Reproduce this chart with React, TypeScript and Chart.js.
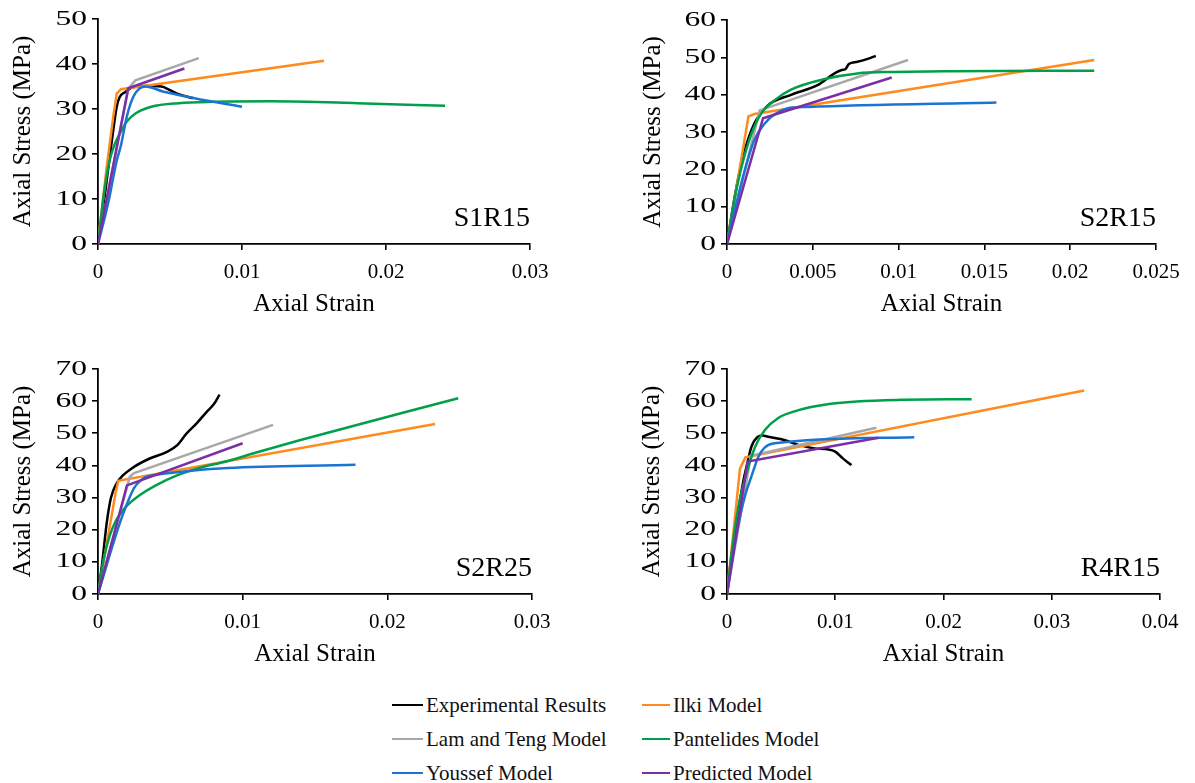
import React, { useEffect, useRef } from "react";
import { Chart, registerables } from "chart.js";

Chart.register(...registerables);

const SERIF = "'Liberation Serif', 'Times New Roman', Times, serif";
Chart.defaults.font.family = SERIF;
Chart.defaults.color = "#000";

// Series shared by every panel, in drawing order
const seriesNames = [
  "Experimental Results",
  "Ilki Model",
  "Lam and Teng Model",
  "Pantelides Model",
  "Youssef Model",
  "Predicted Model",
];
const seriesColors = ["#000000", "#FF8A1E", "#A8A8A8", "#00A04A", "#1C74D2", "#7B2EA6"];

// Each curve: [axial strain, axial stress (MPa)]
// ---- S1R15 ----
const s1r15Experimental = [[0, 0], [0.0004, 9], [0.0008, 19], [0.00106, 25.3], [0.0013, 30.5], [0.0015, 32.6], [0.0019, 33.8], [0.0024, 34.8], [0.0033, 35.1], [0.0044, 35], [0.005, 34.2], [0.0056, 33.3], [0.0066, 32.4]];
const s1r15Ilki = [[0, 0], [0.0006, 17], [0.00106, 28.3], [0.0013, 33.4], [0.0016, 34.4], [0.0157, 40.7]];
const s1r15LamTeng = [[0, 0], [0.0021, 34.5], [0.0026, 36.4], [0.007, 41.3]];
const s1r15Pantelides = [[0, 0], [0.0004, 11], [0.0008, 18.5], [0.0012, 22.5], [0.0016, 25], [0.002, 27.2], [0.0026, 29], [0.0037, 30.5], [0.0056, 31.3], [0.0081, 31.6], [0.012, 31.7], [0.018, 31.3], [0.0241, 30.7]];
const s1r15Youssef = [[0, 0], [0.0007, 9], [0.0013, 18.5], [0.0016, 22], [0.002, 28.3], [0.00245, 32.7], [0.0029, 34.6], [0.0033, 35], [0.0045, 33.9], [0.0067, 32.4], [0.01, 30.5]];
const s1r15Predicted = [[0, 0], [0.0021, 34.6], [0.006, 39]];

// ---- S2R15 ----
const s2r15Experimental = [[0, 0], [0.0005, 14], [0.001, 24.5], [0.0016, 32.3], [0.0024, 37.2], [0.0037, 39.9], [0.0053, 42.6], [0.0062, 45.5], [0.0067, 46.6], [0.0069, 46.8], [0.0071, 48.2], [0.0076, 48.8], [0.0082, 49.6], [0.00867, 50.4]];
const s2r15Ilki = [[0, 0], [0.00125, 34.2], [0.0016, 34.8], [0.0214, 49.3]];
const s2r15LamTeng = [[0, 0], [0.0019, 35.8], [0.01055, 49.3]];
const s2r15Pantelides = [[0, 0], [0.0004, 11], [0.00085, 20.7], [0.00143, 29.6], [0.002, 35], [0.0028, 38.6], [0.0037, 41.3], [0.0057, 44.2], [0.0076, 45.7], [0.0097, 46.1], [0.013, 46.3], [0.0214, 46.4]];
const s2r15Youssef = [[0, 0], [0.0005, 10], [0.00104, 19.8], [0.0016, 27.9], [0.0022, 32.3], [0.0028, 34.8], [0.0035, 36.3], [0.0047, 36.7], [0.0157, 37.9]];
const s2r15Predicted = [[0, 0], [0.0021, 33.7], [0.0096, 44.6]];

// ---- S2R25 ----
const s2r25Experimental = [[0, 0], [0.0003, 10], [0.0006, 22], [0.0009, 30], [0.0013, 34.5], [0.0017, 36.8], [0.0024, 39.3], [0.0035, 42], [0.0048, 44.3], [0.0055, 46.4], [0.0061, 49.8], [0.0068, 53], [0.0075, 56.6], [0.008, 59], [0.0084, 62]];
const s2r25Ilki = [[0, 0], [0.0012, 31], [0.0014, 35.2], [0.0233, 52.9]];
const s2r25LamTeng = [[0, 0], [0.0022, 36.5], [0.0025, 37.6], [0.0121, 52.6]];
const s2r25Pantelides = [[0, 0], [0.0004, 11], [0.0008, 18], [0.0012, 22.5], [0.0016, 25.3], [0.002, 27.5], [0.0028, 30.5], [0.004, 33.8], [0.0055, 37], [0.007, 39.2], [0.0089, 41.3], [0.011, 44.1], [0.014, 47.9], [0.0249, 60.9]];
const s2r25Youssef = [[0, 0], [0.0008, 12], [0.0015, 22], [0.002, 28], [0.0025, 33], [0.003, 35.5], [0.0035, 36.7], [0.0178, 40.2]];
const s2r25Predicted = [[0, 0], [0.002, 33.8], [0.01, 46.9]];

// ---- R4R15 ----
const r4r15Experimental = [[0, 0], [0.0005, 14], [0.001, 25], [0.0015, 35], [0.0019, 41], [0.00225, 45.8], [0.0028, 48.8], [0.0033, 49.3], [0.0038, 48.9], [0.0053, 47.9], [0.0066, 46.4], [0.0081, 45.3], [0.0093, 45], [0.01, 44.3], [0.0107, 42.2], [0.0115, 40.1]];
const r4r15Ilki = [[0, 0], [0.0012, 39], [0.0017, 42.5], [0.033, 63.3]];
const r4r15LamTeng = [[0, 0], [0.0022, 43], [0.0138, 51.7]];
const r4r15Pantelides = [[0, 0], [0.0004, 12], [0.0008, 22], [0.00117, 29.2], [0.0018, 37.5], [0.0026, 45.8], [0.0035, 51], [0.0047, 54.7], [0.0066, 57.2], [0.009, 58.9], [0.012, 59.9], [0.016, 60.4], [0.0226, 60.6]];
const r4r15Youssef = [[0, 0], [0.0006, 13], [0.0012, 24], [0.0017, 31], [0.00225, 36.5], [0.0029, 42.7], [0.0035, 45.6], [0.0044, 46.9], [0.0173, 48.8]];
const r4r15Predicted = [[0, 0], [0.0019, 41.2], [0.014, 48.6]];

// Axis ticks
const s1r15XTicks = [0, 0.01, 0.02, 0.03];
const s1r15YTicks = [0, 10, 20, 30, 40, 50];
const s2r15XTicks = [0, 0.005, 0.01, 0.015, 0.02, 0.025];
const s2r15YTicks = [0, 10, 20, 30, 40, 50, 60];
const s2r25XTicks = [0, 0.01, 0.02, 0.03];
const s2r25YTicks = [0, 10, 20, 30, 40, 50, 60, 70];
const r4r15XTicks = [0, 0.01, 0.02, 0.03, 0.04];
const r4r15YTicks = [0, 10, 20, 30, 40, 50, 60, 70];

const xAxisTitle = "Axial Strain";
const yAxisTitle = "Axial Stress (MPa)";

// Curves that come from smooth relations get monotone interpolation
const smoothSeries = [true, false, false, true, true, false];

type Pt = number[];

interface PanelSpec {
  label: string;
  curves: Pt[][];
  xTicks: number[];
  yTicks: number[];
  box: { left: number; top: number; width: number; height: number };
  pad: { top: number; right: number };
  yAxisWidth: number;
  yTitlePad: number;
}

const panels: PanelSpec[] = [
  {
    label: "S1R15",
    curves: [s1r15Experimental, s1r15Ilki, s1r15LamTeng, s1r15Pantelides, s1r15Youssef, s1r15Predicted],
    xTicks: s1r15XTicks,
    yTicks: s1r15YTicks,
    box: { left: 0, top: 0, width: 597, height: 320 },
    pad: { top: 19, right: 67 },
    yAxisWidth: 98,
    yTitlePad: 10.5,
  },
  {
    label: "S2R15",
    curves: [s2r15Experimental, s2r15Ilki, s2r15LamTeng, s2r15Pantelides, s2r15Youssef, s2r15Predicted],
    xTicks: s2r15XTicks,
    yTicks: s2r15YTicks,
    box: { left: 597, top: 0, width: 598, height: 320 },
    pad: { top: 20, right: 39 },
    yAxisWidth: 130,
    yTitlePad: 43.5,
  },
  {
    label: "S2R25",
    curves: [s2r25Experimental, s2r25Ilki, s2r25LamTeng, s2r25Pantelides, s2r25Youssef, s2r25Predicted],
    xTicks: s2r25XTicks,
    yTicks: s2r25YTicks,
    box: { left: 0, top: 330, width: 597, height: 340 },
    pad: { top: 39, right: 65 },
    yAxisWidth: 98,
    yTitlePad: 10.5,
  },
  {
    label: "R4R15",
    curves: [r4r15Experimental, r4r15Ilki, r4r15LamTeng, r4r15Pantelides, r4r15Youssef, r4r15Predicted],
    xTicks: r4r15XTicks,
    yTicks: r4r15YTicks,
    box: { left: 597, top: 330, width: 598, height: 340 },
    pad: { top: 39, right: 35 },
    yAxisWidth: 130,
    yTitlePad: 42.5,
  },
];

const TICK_LENGTH = 6;
const Y_TICK_PADDING = 5;
// The stress-axis numbers are set in a widened face
const Y_LABEL_STRETCH = 1.5;

// Specimen name written in the lower-right corner of the plot area
const panelLabelPlugin = {
  id: "panelLabel",
  afterDatasetsDraw(chart: any, _args: any, opts: any) {
    const { ctx, chartArea } = chart;
    ctx.save();
    ctx.font = `28px ${SERIF}`;
    ctx.fillStyle = "#000";
    ctx.textAlign = "right";
    ctx.textBaseline = "middle";
    ctx.fillText(opts.text, chartArea.right, chartArea.bottom - 25);
    ctx.restore();
  },
};

// Widens the y-axis tick labels about their right-aligned anchor
const wideYLabelsPlugin = {
  id: "wideYLabels",
  beforeDraw(chart: any) {
    const scale = chart.scales.y;
    if (!scale || scale.__wide) return;
    const orig = scale.drawLabels;
    scale.drawLabels = function (area: any) {
      const ctx = this.ctx;
      const x0 = this.right - TICK_LENGTH - Y_TICK_PADDING;
      ctx.save();
      ctx.translate(x0, 0);
      ctx.scale(Y_LABEL_STRETCH, 1);
      ctx.translate(-x0, 0);
      orig.call(this, area);
      ctx.restore();
    };
    scale.__wide = true;
  },
};

const X_AXIS_HEIGHT = 76;

function Panel({ spec }: { spec: PanelSpec }) {
  const ref = useRef<HTMLCanvasElement>(null);

  useEffect(() => {
    if (!ref.current) return;
    const datasets = spec.curves.map((curve, i) => ({
      label: seriesNames[i],
      data: curve.map(([x, y]) => ({ x, y })),
      borderColor: seriesColors[i],
      backgroundColor: seriesColors[i],
      borderWidth: 2.5,
      pointRadius: 0,
      fill: false,
      cubicInterpolationMode: smoothSeries[i] ? ("monotone" as const) : ("default" as const),
      tension: 0,
      order: seriesNames.length - i,
    }));

    const tickFont = { family: SERIF, size: 21, lineHeight: 1, style: "normal" as const, weight: "normal" as const };
    const titleFont = { family: SERIF, size: 25, lineHeight: 1, style: "normal" as const, weight: "normal" as const };
    const gridStyle = {
      display: true,
      drawOnChartArea: false,
      drawTicks: true,
      tickLength: TICK_LENGTH,
      color: "#000",
      lineWidth: 1.6,
    };
    const borderStyle = { display: true, color: "#000", width: 1.8 };

    const chart = new Chart(ref.current, {
      type: "line",
      data: { datasets },
      options: {
        responsive: false,
        animation: false,
        layout: { padding: { left: 0, top: spec.pad.top, right: spec.pad.right, bottom: 0 } },
        plugins: {
          legend: { display: false },
          tooltip: { enabled: false },
          panelLabel: { text: spec.label },
        } as any,
        scales: {
          x: {
            type: "linear",
            min: spec.xTicks[0],
            max: spec.xTicks[spec.xTicks.length - 1],
            afterBuildTicks: (scale: any) => {
              scale.ticks = spec.xTicks.map((v) => ({ value: v }));
            },
            afterFit: (scale: any) => {
              scale.height = X_AXIS_HEIGHT;
            },
            ticks: {
              font: tickFont,
              color: "#000",
              padding: 12,
              maxRotation: 0,
              autoSkip: false,
              callback: (v: any) => String(v),
            },
            grid: gridStyle,
            border: borderStyle,
            title: {
              display: true,
              text: xAxisTitle,
              font: titleFont,
              color: "#000",
              padding: { top: 0, bottom: 3.5 },
            },
          },
          y: {
            type: "linear",
            min: spec.yTicks[0],
            max: spec.yTicks[spec.yTicks.length - 1],
            afterBuildTicks: (scale: any) => {
              scale.ticks = spec.yTicks.map((v) => ({ value: v }));
            },
            afterFit: (scale: any) => {
              scale.width = spec.yAxisWidth;
            },
            ticks: {
              font: tickFont,
              color: "#000",
              padding: Y_TICK_PADDING,
              autoSkip: false,
              callback: (v: any) => String(v),
            },
            grid: gridStyle,
            border: borderStyle,
            title: {
              display: true,
              text: yAxisTitle,
              font: titleFont,
              color: "#000",
              padding: { top: spec.yTitlePad, bottom: 0 },
            },
          },
        },
      } as any,
      plugins: [panelLabelPlugin, wideYLabelsPlugin],
    });
    return () => chart.destroy();
  }, [spec]);

  const { left, top, width, height } = spec.box;
  return (
    <div style={{ position: "absolute", left, top, width, height }}>
      <canvas ref={ref} width={width} height={height} style={{ width, height, display: "block" }} />
    </div>
  );
}

// Shared key below the panels: two columns, three rows
const legendRows = [705, 739, 773];
const legendColumns = [392, 642];

function SharedLegend() {
  return (
    <>
      {seriesNames.map((name, i) => {
        const col = i % 2;
        const row = Math.floor(i / 2);
        const x = legendColumns[col];
        const y = legendRows[row];
        return (
          <div
            key={name}
            style={{
              position: "absolute",
              left: x,
              top: y - 10.5,
              height: 21,
              display: "flex",
              alignItems: "center",
              whiteSpace: "nowrap",
            }}
          >
            <span
              style={{
                display: "inline-block",
                width: col === 0 ? 31 : 28,
                height: 2.5,
                background: seriesColors[i],
                marginRight: 3,
              }}
            />
            <span style={{ fontFamily: SERIF, fontSize: 21, lineHeight: "21px", color: "#111" }}>{name}</span>
          </div>
        );
      })}
    </>
  );
}

export default function App() {
  return (
    <div
      style={{
        position: "absolute",
        left: 0,
        top: 0,
        width: 1195,
        height: 783,
        background: "#fff",
        overflow: "hidden",
      }}
    >
      {panels.map((p) => (
        <Panel key={p.label} spec={p} />
      ))}
      <SharedLegend />
    </div>
  );
}
